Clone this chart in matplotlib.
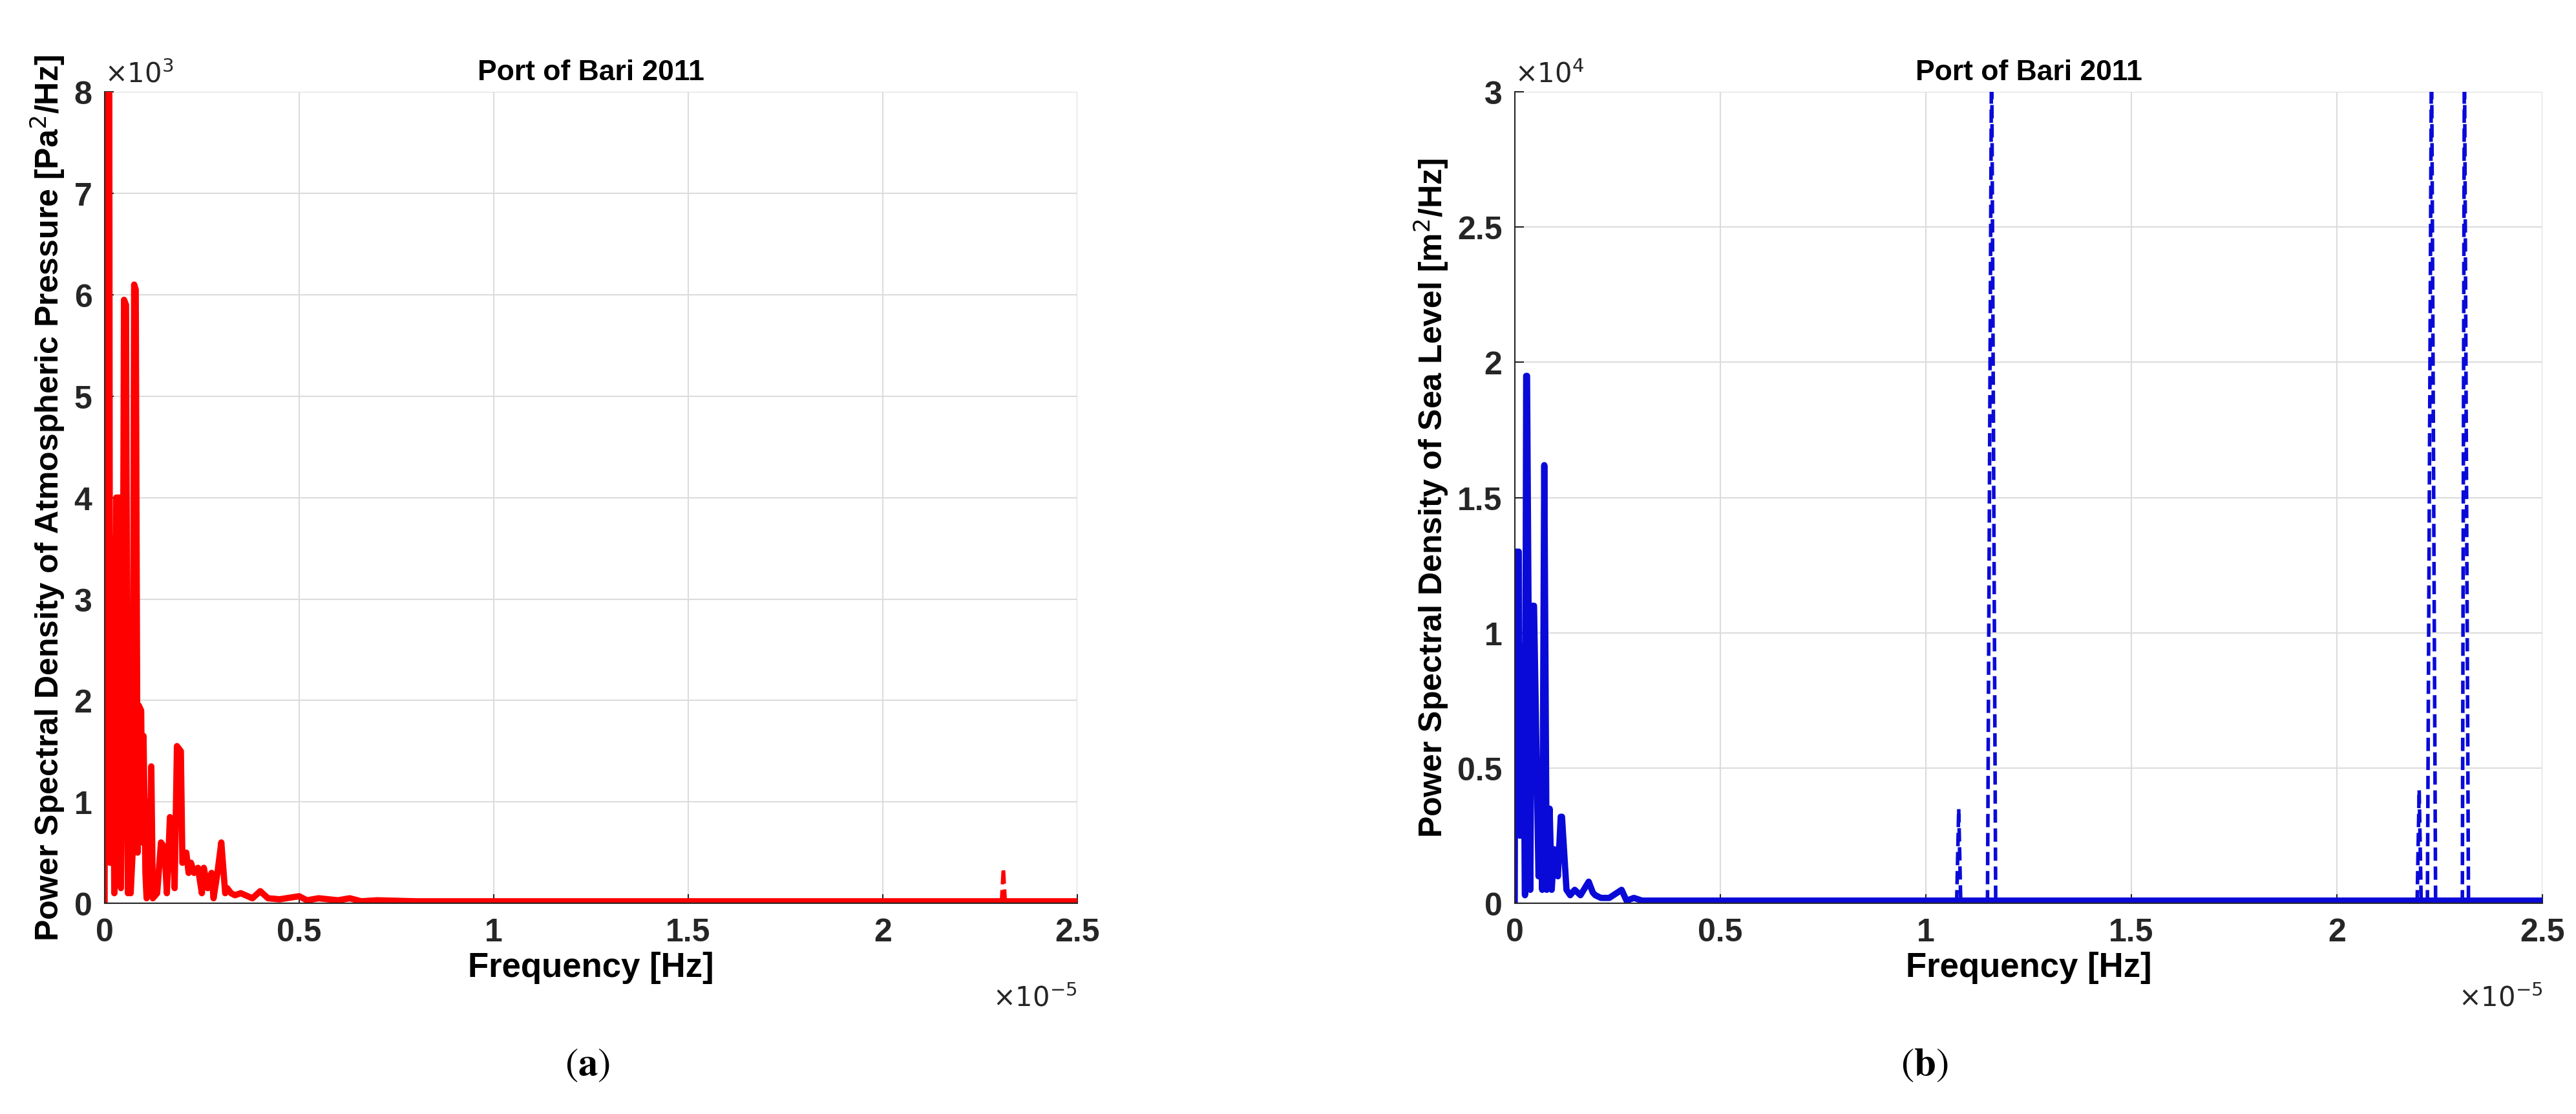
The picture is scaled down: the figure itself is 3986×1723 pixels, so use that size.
import numpy as np
import matplotlib
matplotlib.use("Agg")
import matplotlib.pyplot as plt

# frequency in units of 1e-5 Hz
# left: atmospheric pressure PSD (units of 1e3 Pa^2/Hz)
pa_f = [0.0, 0.002, 0.012, 0.014, 0.018, 0.02, 0.025, 0.03, 0.04, 0.042, 0.046, 0.05, 0.055, 0.06,
        0.065, 0.067, 0.072, 0.076, 0.08, 0.085, 0.088, 0.094, 0.097, 0.1, 0.105, 0.108, 0.112,
        0.116, 0.12, 0.124, 0.135, 0.145, 0.154, 0.16, 0.168, 0.174, 0.18, 0.186, 0.196, 0.2,
        0.21, 0.216, 0.222, 0.23, 0.24, 0.25, 0.255, 0.265, 0.275, 0.28, 0.29, 0.3, 0.31, 0.315,
        0.325, 0.335, 0.35, 0.38, 0.4, 0.42, 0.45, 0.5, 0.52, 0.55, 0.6, 0.63, 0.66, 0.7, 0.8,
        0.9, 1.0, 1.2, 1.4, 1.6, 1.8, 2.0, 2.2, 2.4, 2.5]
pa_v = [0.0, 8.0, 8.0, 0.4, 3.6, 3.0, 0.1, 4.0, 4.0, 0.15, 1.5, 5.95, 5.9, 0.1, 1.7, 0.1, 0.5,
        6.1, 6.05, 0.5, 1.95, 1.9, 0.6, 1.65, 0.3, 0.05, 1.0, 0.3, 1.35, 0.05, 0.1, 0.6, 0.55,
        0.1, 0.85, 0.8, 0.15, 1.55, 1.5, 0.4, 0.5, 0.3, 0.4, 0.3, 0.35, 0.1, 0.35, 0.15, 0.3,
        0.05, 0.3, 0.6, 0.1, 0.15, 0.1, 0.08, 0.1, 0.05, 0.12, 0.05, 0.04, 0.07, 0.03, 0.05,
        0.03, 0.05, 0.02, 0.03, 0.02, 0.02, 0.02, 0.02, 0.02, 0.02, 0.02, 0.02, 0.02, 0.02, 0.02]
pa_dash_f = [2.305, 2.31, 2.315]
pa_dash_v = [0.0, 0.35, 0.0]

# right: sea level PSD (units of 1e4 m^2/Hz)
sl_f = [0.0, 0.002, 0.01, 0.013, 0.02, 0.025, 0.028, 0.03, 0.038, 0.042, 0.047, 0.058, 0.063,
        0.067, 0.072, 0.078, 0.085, 0.09, 0.096, 0.105, 0.112, 0.115, 0.126, 0.135, 0.146,
        0.16, 0.18, 0.19, 0.196, 0.21, 0.23, 0.26, 0.272, 0.29, 0.31, 0.33, 0.35, 0.4, 0.5,
        0.7, 1.0, 1.5, 2.0, 2.5]
sl_v = [0.0, 1.3, 1.3, 0.25, 0.95, 0.03, 1.95, 1.95, 0.05, 1.1, 1.1, 0.1, 0.2, 0.05, 1.62,
        0.05, 0.35, 0.05, 0.2, 0.1, 0.32, 0.32, 0.05, 0.03, 0.05, 0.03, 0.08, 0.04, 0.03, 0.02,
        0.02, 0.05, 0.01, 0.02, 0.01, 0.01, 0.01, 0.01, 0.01, 0.01, 0.01, 0.01, 0.01, 0.01]
sl_dash = [
    ([1.075, 1.08, 1.085], [0.0, 0.35, 0.0]),
    ([1.15, 1.16, 1.17], [0.0, 3.2, 0.0]),
    ([2.195, 2.2, 2.205], [0.0, 0.42, 0.0]),
    ([2.22, 2.23, 2.24], [0.0, 3.2, 0.0]),
    ([2.305, 2.31, 2.32], [0.0, 3.2, 0.0]),
]

plt.rcParams['font.family'] = ['Liberation Sans', 'DejaVu Sans']

fig = plt.figure(figsize=(39.86, 17.24), dpi=100)
ax1 = fig.add_axes([0.0406, 0.189, 0.3776, 0.728])
ax2 = fig.add_axes([0.588, 0.189, 0.399, 0.728])


def style(ax, ymax, yticks, ylabel, power):
    ax.set_xlim(0, 2.5)
    ax.set_ylim(0, ymax)
    ax.set_xticks([0, 0.5, 1, 1.5, 2, 2.5])
    ax.set_xticklabels(['0', '0.5', '1', '1.5', '2', '2.5'])
    ax.set_yticks(yticks)
    ax.set_yticklabels(['%g' % t for t in yticks])
    ax.tick_params(direction='in', labelsize=36, length=10, width=1.5, colors='#262626')
    ax.tick_params(axis='x', pad=16)
    ax.tick_params(axis='y', pad=14)
    for lab in ax.get_xticklabels() + ax.get_yticklabels():
        lab.set_fontweight('bold')
    ax.grid(True, color='#dcdcdc', linewidth=1.5)
    ax.set_axisbelow(True)
    for s in ['top', 'right']:
        ax.spines[s].set_visible(False)
    for s in ['left', 'bottom']:
        ax.spines[s].set_color('#262626')
        ax.spines[s].set_linewidth(1.5)
    ax.set_title('Port of Bari 2011', fontsize=32, fontweight='bold', pad=14)
    ax.set_xlabel('Frequency [Hz]', fontsize=38, fontweight='bold', labelpad=4)
    ax.set_ylabel(ylabel, fontsize=36, fontweight='bold', labelpad=8)
    ax.text(0.0, 1.005, r'$\times10^{%d}$' % power, transform=ax.transAxes,
            fontsize=30, ha='left', va='bottom', color='#262626')
    ax.text(1.0, -0.1, r'$\times10^{-5}$', transform=ax.transAxes,
            fontsize=30, ha='right', va='top', color='#262626')


ax1.plot(pa_f, pa_v, color='red', lw=7)
ax1.plot(pa_dash_f, pa_dash_v, color='red', lw=4, ls='--')
style(ax1, 8, list(range(0, 9)), r'Power Spectral Density of Atmospheric Pressure [Pa$^2$/Hz]', 3)

ax2.plot(sl_f, sl_v, color='#0a0ad8', lw=7)
for fx, fy in sl_dash:
    ax2.plot(fx, fy, color='#0a0ad8', lw=4, ls='--')
style(ax2, 3, [0, 0.5, 1, 1.5, 2, 2.5, 3], r'Power Spectral Density of Sea Level [m$^2$/Hz]', 4)

fig.text(0.228, 0.035, r'($\mathbf{a}$)', fontsize=44, ha='center', family='STIXGeneral',
         math_fontfamily='stix')
fig.text(0.747, 0.035, r'($\mathbf{b}$)', fontsize=44, ha='center', family='STIXGeneral',
         math_fontfamily='stix')

fig.savefig('out.png', dpi=100)
